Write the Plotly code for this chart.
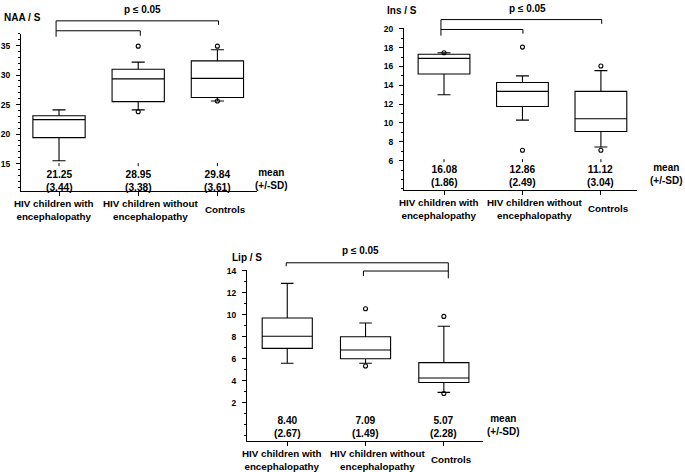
import plotly.graph_objects as go

W, H = 685, 472

categories = ["HIV children with<br>encephalopathy",
              "HIV children without<br>encephalopathy",
              "Controls"]
cat_x = [1, 2, 3]

# Panel 1: NAA / S
naa_q1 = [19.4, 25.5, 26.2]
naa_med = [22.45, 29.35, 29.45]
naa_q3 = [23.1, 31.0, 32.4]
naa_lo = [15.5, 24.1, 25.6]
naa_hi = [24.1, 32.2, 34.3]
naa_out_x = [2, 2, 3, 3]
naa_out_y = [34.9, 23.8, 34.9, 25.6]
naa_mean = ["21.25", "28.95", "29.84"]
naa_sd = ["(3.44)", "(3.38)", "(3.61)"]

# Panel 2: Ins / S
ins_q1 = [15.2, 11.75, 9.1]
ins_med = [16.85, 13.35, 10.45]
ins_q3 = [17.3, 14.3, 13.35]
ins_lo = [13.0, 10.3, 7.45]
ins_hi = [17.45, 15.0, 15.55]
ins_out_x = [1, 2, 2, 3, 3]
ins_out_y = [17.45, 18.05, 7.1, 16.05, 7.1]
ins_mean = ["16.08", "12.86", "11.12"]
ins_sd = ["(1.86)", "(2.49)", "(3.04)"]

# Panel 3: Lip / S
lip_q1 = [6.95, 6.0, 3.85]
lip_med = [8.05, 6.8, 4.25]
lip_q3 = [9.7, 8.0, 5.65]
lip_lo = [5.6, 5.6, 2.95]
lip_hi = [12.85, 9.25, 8.95]
lip_out_x = [2, 2, 3, 3]
lip_out_y = [10.55, 5.35, 9.85, 2.85]
lip_mean = ["8.40", "7.09", "5.07"]
lip_sd = ["(2.67)", "(1.49)", "(2.28)"]

FONT = "Liberation Sans, Arial, sans-serif"
label_offsets = [-0.07, 0.15, 0.1]

def px_x(p):
    return p / W

def px_y(p):
    return 1 - p / H

fig = go.Figure()

panels = [
    dict(name="NAA / S", xa="x", ya="y", xd=(21, 257), yd=(30, 189),
         xr=[0.52, 3.5], yr=[10.3, 37.0], tv=[15, 20, 25, 30, 35],
         q1=naa_q1, med=naa_med, q3=naa_q3, lo=naa_lo, hi=naa_hi,
         ox=naa_out_x, oy=naa_out_y, mean=naa_mean, sd=naa_sd,
         mean_y=178.5, msd_x=271, msd_y=176, cat_y=207.5, title_xy=(22, 14),
         p_xy=(142, 6), marks_y=162, wbox=0.66),
    dict(name="Ins / S", xa="x2", ya="y2", xd=(404, 637), yd=(24, 188),
         xr=[0.49, 3.46], yr=[2.84, 20.1], tv=[6, 8, 10, 12, 14, 16, 18, 20],
         q1=ins_q1, med=ins_med, q3=ins_q3, lo=ins_lo, hi=ins_hi,
         ox=ins_out_x, oy=ins_out_y, mean=ins_mean, sd=ins_sd,
         mean_y=173.5, msd_x=666, msd_y=171.5, cat_y=206.5, title_xy=(402, 7),
         p_xy=(527, 5), marks_y=158, wbox=0.66),
    dict(name="Lip / S", xa="x3", ya="y3", xd=(247, 483), yd=(268, 441),
         xr=[0.486, 3.5], yr=[-1.49, 14.09], tv=[2, 4, 6, 8, 10, 12, 14],
         q1=lip_q1, med=lip_med, q3=lip_q3, lo=lip_lo, hi=lip_hi,
         ox=lip_out_x, oy=lip_out_y, mean=lip_mean, sd=lip_sd,
         mean_y=426.5, msd_x=504, msd_y=424.5, cat_y=459.5, title_xy=(247, 256),
         p_xy=(360, 249), marks_y=None, wbox=0.64),
]

brackets = [
    ("x", [(0.963, 17, 3.014, 17), (0.963, 17, 0.963, 33), (3.014, 17, 3.014, 21),
           (0.963, 27, 2.026, 27), (2.026, 27, 2.026, 32)]),
    ("x2", [(0.961, 15.7, 3.01, 15.7), (0.961, 15.7, 0.961, 32), (3.01, 15.7, 3.01, 20),
            (0.961, 25.7, 2.006, 25.7), (2.006, 25.7, 2.006, 30)]),
    ("x3", [(0.987, 261, 3.057, 261), (0.987, 261, 0.987, 264.5), (3.057, 261, 3.057, 276.7),
            (1.973, 269.3, 3.057, 269.3), (1.973, 269.3, 1.973, 274.3)]),
]

annotations = []
shapes = []
layout_axes = {}

def bold(size):
    return dict(family=FONT, size=size, color="black", weight="bold")

for i, p in enumerate(panels):
    fig.add_trace(go.Box(
        x=cat_x, q1=p["q1"], median=p["med"], q3=p["q3"],
        lowerfence=p["lo"], upperfence=p["hi"],
        width=p["wbox"], whiskerwidth=0.25, boxpoints=False,
        fillcolor="rgba(255,255,255,0)", line=dict(color="black", width=1.1),
        xaxis=p["xa"], yaxis=p["ya"], showlegend=False, hoverinfo="skip"))
    fig.add_trace(go.Scatter(
        x=p["ox"], y=p["oy"], mode="markers",
        marker=dict(symbol="circle-open", size=4, color="black", line=dict(width=1.1)),
        xaxis=p["xa"], yaxis=p["ya"], showlegend=False, hoverinfo="skip"))

    suffix = "" if i == 0 else str(i + 1)
    layout_axes["xaxis" + suffix] = dict(
        domain=[px_x(p["xd"][0]), px_x(p["xd"][1])], range=p["xr"],
        anchor=p["ya"], showline=True, linecolor="black", linewidth=1,
        ticks="outside", ticklen=4, tickcolor="black", tickwidth=1,
        tickvals=cat_x, showticklabels=False, showgrid=False, zeroline=False,
        fixedrange=True)
    layout_axes["yaxis" + suffix] = dict(
        domain=[px_y(p["yd"][1]), px_y(p["yd"][0])], range=p["yr"],
        anchor=p["xa"], showline=True, linecolor="black", linewidth=1,
        ticks="outside", ticklen=4, tickcolor="black", tickwidth=1,
        tickvals=p["tv"], ticktext=[str(v) for v in p["tv"]],
        minor=dict(ticks="outside", ticklen=2, dtick=1, tickcolor="black", tickwidth=1),
        showgrid=False, zeroline=False, ticklabelstandoff=4,
        tickfont=bold(8.5), fixedrange=True)

    for j, cx in enumerate(cat_x):
        annotations.append(dict(x=cx, y=px_y(p["mean_y"]), xref=p["xa"], yref="paper",
                                text=p["mean"][j] + "<br>" + p["sd"][j], showarrow=False,
                                font=bold(10.2), xanchor="center", yanchor="middle"))
        annotations.append(dict(x=cx + label_offsets[j], y=px_y(p["cat_y"]), xref=p["xa"], yref="paper",
                                text=categories[j], showarrow=False,
                                font=bold(9.8), xanchor="center", yanchor="middle"))
        if p["marks_y"] is not None:
            shapes.append(dict(type="line", xref=p["xa"], yref="paper", x0=cx, x1=cx,
                               y0=px_y(p["marks_y"] - 1.5), y1=px_y(p["marks_y"] + 1.5),
                               line=dict(color="black", width=1)))

    annotations.append(dict(x=px_x(p["msd_x"]), y=px_y(p["msd_y"]), xref="paper", yref="paper",
                            text="mean<br>(+/-SD)", showarrow=False,
                            font=bold(10), xanchor="center", yanchor="middle"))
    annotations.append(dict(x=px_x(p["title_xy"][0]), y=px_y(p["title_xy"][1]), xref="paper", yref="paper",
                            text=p["name"], showarrow=False,
                            font=bold(10), xanchor="center", yanchor="middle"))
    annotations.append(dict(x=px_x(p["p_xy"][0]), y=px_y(p["p_xy"][1]), xref="paper", yref="paper",
                            text="p ≤ 0.05", showarrow=False,
                            font=bold(10), xanchor="center", yanchor="middle"))

for xref, segs in brackets:
    for (x0, y0, x1, y1) in segs:
        shapes.append(dict(type="line", xref=xref, yref="paper", x0=x0, x1=x1,
                           y0=px_y(y0), y1=px_y(y1), line=dict(color="black", width=1)))

fig.update_layout(
    width=W, height=H, margin=dict(l=0, r=0, t=0, b=0),
    paper_bgcolor="white", plot_bgcolor="white",
    annotations=annotations, shapes=shapes, showlegend=False,
    **layout_axes)

fig.write_html("out.html", config={"displayModeBar": False},
               post_script="document.body.style.margin='0';document.body.style.overflow='hidden';")
